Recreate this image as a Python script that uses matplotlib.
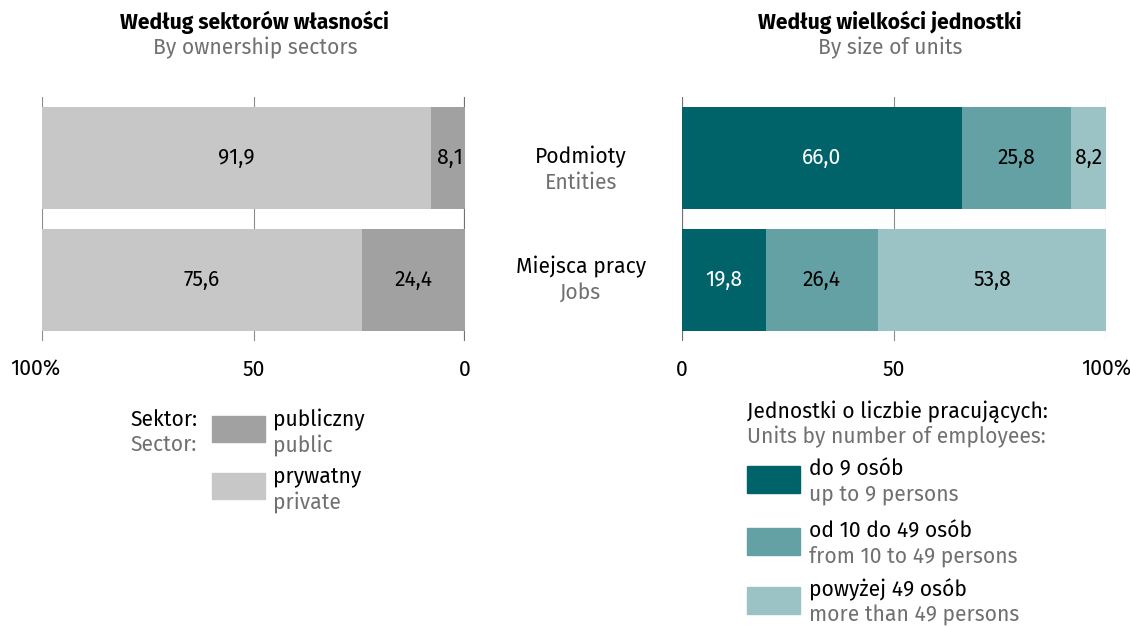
import matplotlib
matplotlib.use("Agg")
import matplotlib.pyplot as plt
import matplotlib.transforms as mtransforms
from matplotlib.patches import Rectangle

plt.rcParams['font.family'] = ['Fira Sans', 'Noto Sans', 'DejaVu Sans']

# dane
categories_pl = ["Podmioty", "Miejsca pracy"]
categories_en = ["Entities", "Jobs"]
public = [8.1, 24.4]
private = [91.9, 75.6]
size_small = [66.0, 19.8]
size_medium = [25.8, 26.4]
size_large = [8.2, 53.8]

sector_labels_pl = ["publiczny", "prywatny"]
sector_labels_en = ["public", "private"]
size_labels_pl = ["do 9 osób", "od 10 do 49 osób", "powyżej 49 osób"]
size_labels_en = ["up to 9 persons", "from 10 to 49 persons", "more than 49 persons"]

C_PUBLIC = "#a0a1a0"
C_PRIVATE = "#c6c7c6"
C_SMALL = "#00636a"
C_MEDIUM = "#64a1a5"
C_LARGE = "#9bc3c5"
GREY_TXT = "#707070"
FS = 15.2

W, H = 1130, 627
fig = plt.figure(figsize=(W / 100, H / 100), dpi=100)


def fx(x):
    return x / W


def fy(y):
    return 1 - y / H


def fmt(v):
    return f"{v:.1f}".replace(".", ",")


ax1 = fig.add_axes([fx(42), fy(341), fx(423), 244 / H])
ax2 = fig.add_axes([fx(682), fy(341), fx(424), 244 / H])

y = list(range(len(categories_pl)))
bh = 0.83

# lewy panel - sektory
ax1.barh(y, public, left=0, height=bh, color=C_PUBLIC, zorder=2)
ax1.barh(y, private, left=public, height=bh, color=C_PRIVATE, zorder=2)
for i in y:
    ax1.text(public[i] / 2 if public[i] > 10 else 0.4, i, fmt(public[i]),
             ha="center" if public[i] > 10 else "right", va="center", fontsize=FS, color="black", zorder=3)
    ax1.text(public[i] + private[i] / 2, i, fmt(private[i]), ha="center", va="center",
             fontsize=FS, color="black", zorder=3)
ax1.set_xlim(100, 0)

# prawy panel - wielkość
left2 = [a + b for a, b in zip(size_small, size_medium)]
ax2.barh(y, size_small, left=0, height=bh, color=C_SMALL, zorder=2)
ax2.barh(y, size_medium, left=size_small, height=bh, color=C_MEDIUM, zorder=2)
ax2.barh(y, size_large, left=left2, height=bh, color=C_LARGE, zorder=2)
for i in y:
    ax2.text(size_small[i] / 2, i, fmt(size_small[i]), ha="center", va="center", fontsize=FS, color="white")
    ax2.text(size_small[i] + size_medium[i] / 2, i, fmt(size_medium[i]), ha="center", va="center",
             fontsize=FS, color="black")
    ax2.text(left2[i] + size_large[i] / 2, i, fmt(size_large[i]), ha="center", va="center",
             fontsize=FS, color="black")
ax2.set_xlim(0, 100)

for ax in (ax1, ax2):
    ax.set_ylim(1.5, -0.5)
    for s in ax.spines.values():
        s.set_visible(False)
    ax.set_yticks([])
    ax.set_xticks([0, 50, 100])
    ax.tick_params(axis="x", length=0, pad=13, labelsize=FS)
    ax.axvline(50, color="#8c8c8c", lw=0.8, zorder=1)
    ax.axvline(100, color="#8c8c8c", lw=0.8, zorder=1)
    ax.axvline(0, color="#707070", lw=1.6, zorder=1)
    ax.set_facecolor("none")
ax1.set_xticklabels(["0", "50", "100%"])
ax2.set_xticklabels(["0", "50", "100%"])
# "100%" po lewej lekko przesunięte w lewo
lbl = ax1.get_xticklabels()[2]
lbl.set_transform(lbl.get_transform() + mtransforms.ScaledTranslation(-7 / 100, 0, fig.dpi_scale_trans))

# tytuły
fig.text(fx(255), fy(22), "Według sektorów własności", ha="center", va="center", fontsize=FS, fontweight="bold")
fig.text(fx(255), fy(48), "By ownership sectors", ha="center", va="center", fontsize=FS, color=GREY_TXT)
fig.text(fx(890), fy(22), "Według wielkości jednostki", ha="center", va="center", fontsize=FS, fontweight="bold")
fig.text(fx(890), fy(48), "By size of units", ha="center", va="center", fontsize=FS, color=GREY_TXT)

# etykiety kategorii
for i, yy in enumerate([157, 267]):
    fig.text(fx(581), fy(yy), categories_pl[i], ha="center", va="center", fontsize=FS)
    fig.text(fx(581), fy(yy + 26), categories_en[i], ha="center", va="center", fontsize=FS, color=GREY_TXT)

# legenda lewa
fig.text(fx(130), fy(420), "Sektor:", ha="left", va="center", fontsize=FS)
fig.text(fx(130), fy(445), "Sector:", ha="left", va="center", fontsize=FS, color=GREY_TXT)
for (ytop, col, lp, le) in [(416, C_PUBLIC, sector_labels_pl[0], sector_labels_en[0]),
                            (473, C_PRIVATE, sector_labels_pl[1], sector_labels_en[1])]:
    fig.add_artist(Rectangle((fx(212), fy(ytop + 26)), fx(53), 26 / H, color=col, transform=fig.transFigure))
    fig.text(fx(273), fy(ytop + 4), lp, ha="left", va="center", fontsize=FS)
    fig.text(fx(273), fy(ytop + 29), le, ha="left", va="center", fontsize=FS, color=GREY_TXT)

# legenda prawa
fig.text(fx(747), fy(412), "Jednostki o liczbie pracujących:", ha="left", va="center", fontsize=FS)
fig.text(fx(747), fy(437), "Units by number of employees:", ha="left", va="center", fontsize=FS, color=GREY_TXT)
for k, (ytop, col) in enumerate([(466, C_SMALL), (528, C_MEDIUM), (587, C_LARGE)]):
    fig.add_artist(Rectangle((fx(747), fy(ytop + 27)), fx(53), 27 / H, color=col, transform=fig.transFigure))
    fig.text(fx(809), fy(ytop + 3), size_labels_pl[k], ha="left", va="center", fontsize=FS)
    fig.text(fx(809), fy(ytop + 28), size_labels_en[k], ha="left", va="center", fontsize=FS, color=GREY_TXT)

fig.savefig("out.png", dpi=100)
